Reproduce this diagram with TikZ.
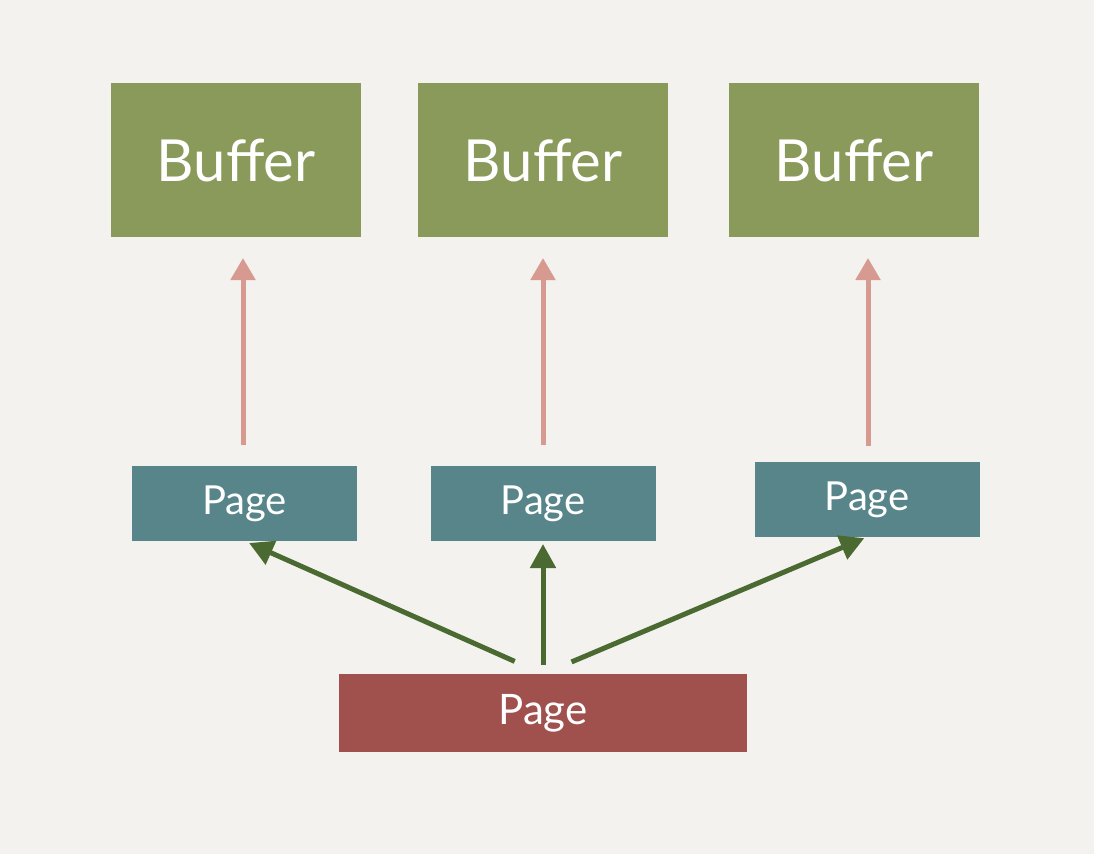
\documentclass[tikz,border=0pt]{standalone}
\usepackage{fontspec}
\setmainfont{Lato}
\usetikzlibrary{arrows.meta}
\definecolor{bg}{HTML}{F3F2EE}
\definecolor{bufgreen}{HTML}{8A9A5A}
\definecolor{pageteal}{HTML}{578589}
\definecolor{pagered}{HTML}{A0504D}
\definecolor{pinkarrow}{HTML}{D69A90}
\definecolor{darkgreen}{HTML}{4B6A32}
\tikzset{
  box/.style={rectangle, inner sep=0pt, outer sep=0pt, text=white},
  bufbox/.style={box, fill=bufgreen, minimum width=250pt, minimum height=154pt, font=\fontsize{58}{60}\selectfont},
  pagebox/.style={box, fill=pageteal, minimum width=225pt, minimum height=75pt, font=\fontsize{40}{42}\selectfont},
  basebox/.style={box, fill=pagered, minimum width=408pt, minimum height=78pt, font=\fontsize{42}{44}\selectfont},
  pinkarr/.style={draw=pinkarrow, line width=5pt, -{Triangle[width=24pt,length=22pt]}},
  greenarr/.style={draw=darkgreen, line width=5pt, -{Triangle[width=25pt,length=24pt]}},
}
\begin{document}
\begin{tikzpicture}[x=1pt,y=-1pt]
\fill[bg] (0,0) rectangle (1094,854);
\useasboundingbox (0,0) rectangle (1094,854);
\node[bufbox] (b1) at (236,160) {Buffer};
\node[bufbox] (b2) at (543,160) {Buffer};
\node[bufbox] (b3) at (854,160) {Buffer};
\node[pagebox] (p1) at (244.5,503.5) {Page};
\node[pagebox] (p2) at (543,503.5) {Page};
\node[pagebox] (p3) at (867,499.5) {Page};
\node[basebox] (bp) at (543,713) {Page};
\draw[pinkarr, shorten <=21pt, shorten >=21pt] (p1.north -| 243,0) -- (b1.south -| 243,0);
\draw[pinkarr, shorten <=21pt, shorten >=21pt] (p2.north) -- (b2.south -| p2.north);
\draw[pinkarr, shorten <=16pt, shorten >=21pt] (p3.north -| 868,0) -- (b3.south -| 868,0);
\draw[greenarr, shorten <=31pt, shorten >=5pt] (bp.north) -- (p1.south);
\draw[greenarr, shorten <=9pt, shorten >=3pt] (bp.north) -- (p2.south);
\draw[greenarr, shorten <=31pt, shorten >=3pt] (bp.north) -- (p3.south);
\end{tikzpicture}
\end{document}
